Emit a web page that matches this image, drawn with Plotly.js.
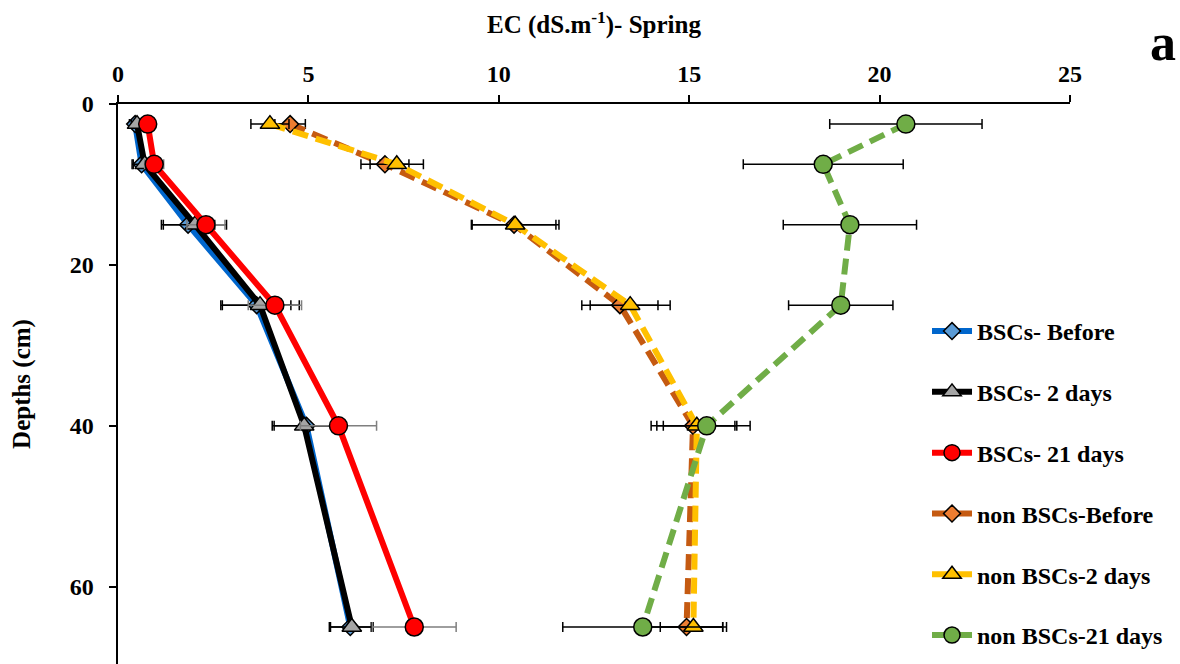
<!DOCTYPE html>
<html>
<head>
<meta charset="utf-8">
<script src="https://cdn.plot.ly/plotly-3.0.1.min.js"></script>
<style>html,body{margin:0;padding:0;background:#fff;}#chart{width:1180px;height:664px;}</style>
</head>
<body>
<div id="chart"></div>
<script>
// Depths (cm)
const depths = [2.5, 7.5, 15, 25, 40, 65];

// EC values (dS/m) per series
const bscBefore = [0.45, 0.62, 1.84, 3.64, 4.95, 6.10];
const bscBeforeErr = [0.15, 0.25, 0.7, 0.9, 0.85, 0.55];
const bsc2 = [0.50, 0.70, 2.02, 3.73, 4.89, 6.14];
const bsc2Err = [0.15, 0.3, 0.83, 1.03, 0.84, 0.56];
const bsc21 = [0.78, 0.95, 2.31, 4.12, 5.79, 7.78];
const bsc21Err = [0.1, 0.25, 0.5, 0.7, 1.0, 1.1];
const nonBefore = [4.52, 7.01, 10.40, 13.18, 15.10, 14.93];
const nonBeforeErr = [0.4, 0.63, 1.1, 1.0, 1.1, 0.95];
const non2 = [3.99, 7.32, 10.43, 13.45, 15.20, 15.11];
const non2Err = [0.5, 0.7, 1.15, 1.05, 1.05, 0.87];
const non21 = [20.69, 18.52, 19.22, 18.98, 15.46, 13.78];
const non21Err = [2.0, 2.1, 1.75, 1.37, 1.14, 2.1];

const names = ["BSCs- Before", "BSCs- 2 days", "BSCs- 21 days",
               "non BSCs-Before", "non BSCs-2 days", "non BSCs-21 days"];

function mk(i, x, err, lineColor, dash, sym, fill, size, errColor) {
  return {
    type: "scatter", mode: "lines+markers",
    x: x, y: depths, name: names[i], legendgroup: "g" + i,
    line: {color: lineColor, width: 6, dash: dash},
    marker: {symbol: sym, color: fill, size: size, line: {color: "#000", width: 1.5}},
    error_x: {type: "data", array: err, visible: true, color: errColor, thickness: 1.5, width: 5}
  };
}

const traces = [
  mk(0, bscBefore, bscBeforeErr, "#0066CC", "solid", "diamond", "#5B9BD5", 13, "#000"),
  mk(1, bsc2, bsc2Err, "#000000", "solid", "triangle-up", "#A5A5A5", 17, "#000"),
  mk(2, bsc21, bsc21Err, "#FF0000", "solid", "circle", "#FF0000", 18, "#7F7F7F"),
  mk(3, nonBefore, nonBeforeErr, "#C55A11", "16px,8px", "diamond", "#ED7D31", 13, "#000"),
  mk(4, non2, non2Err, "#FFC000", "16px,8px", "triangle-up", "#FFC000", 17, "#000"),
  mk(5, non21, non21Err, "#70AD47", "16px,8px", "circle", "#70AD47", 18, "#000")
];

const fnt = {family: "Liberation Serif", size: 24, color: "#000", weight: "bold"};
const tfnt = {family: "Liberation Serif", size: 25, color: "#000", weight: "bold"};

const layout = {
  width: 1180, height: 664,
  margin: {l: 118, r: 110, t: 104, b: 0, pad: 0},
  paper_bgcolor: "#fff", plot_bgcolor: "#fff",
  showlegend: true,
  xaxis: {
    side: "top", range: [0, 25], tickvals: [0, 5, 10, 15, 20, 25],
    showgrid: false, zeroline: false, showline: true, linecolor: "#000", linewidth: 2.5,
    ticks: "outside", ticklen: 7, tickwidth: 2, tickcolor: "#000",
    tickfont: fnt, ticklabelstandoff: 3,
    title: {text: "EC (dS.m<sup>-1</sup>)- Spring", font: tfnt, standoff: 20}
  },
  yaxis: {
    range: [69.6, 0], tickvals: [0, 20, 40, 60],
    showgrid: false, zeroline: false, showline: true, linecolor: "#000", linewidth: 2.5,
    ticks: "outside", ticklen: 7, tickwidth: 2, tickcolor: "#000",
    tickfont: fnt, ticklabelstandoff: 10,
    title: {text: "Depths (cm)", font: tfnt, standoff: 32}
  },
  legend: {
    x: 0.8498, xanchor: "left", y: 0.634, yanchor: "top",
    font: fnt, traceorder: "grouped", tracegroupgap: 26.6,
    bgcolor: "rgba(0,0,0,0)", itemwidth: 40
  },
  annotations: [{
    text: "a", xref: "paper", yref: "paper", x: 1.0977, y: 1.1107,
    xanchor: "center", yanchor: "middle", showarrow: false,
    font: {family: "Liberation Serif", size: 52, color: "#000", weight: "bold"}
  }]
};

Plotly.newPlot("chart", traces, layout, {displayModeBar: false, staticPlot: true});
</script>
</body>
</html>
